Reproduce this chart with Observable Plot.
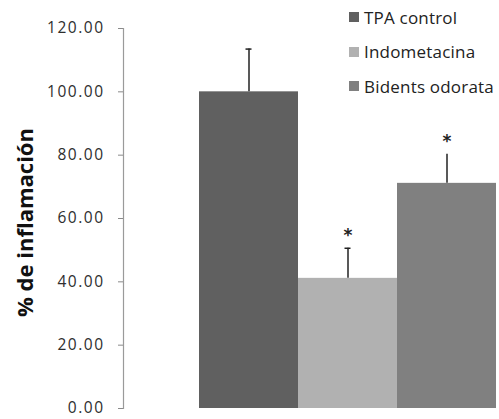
<!DOCTYPE html>
<html>
<head>
<meta charset="utf-8">
<script src="https://cdn.jsdelivr.net/npm/d3@7"></script>
<script src="https://cdn.jsdelivr.net/npm/@observablehq/plot@0.6"></script>
<style>
  html, body { margin: 0; padding: 0; background: #fff; }
  #wrap { position: relative; width: 499px; height: 419px; overflow: hidden; }
  #legend { position: absolute; left: 349px; top: 6px; font-family: "Open Sans", sans-serif; font-size: 17px; letter-spacing: 0.2px; color: #222; }
  #legend .item { display: flex; align-items: center; height: 34.5px; margin-top: 0; }
  #legend .sw { width: 10px; height: 10px; margin-right: 5px; }
  #legend .item:first-child { margin-top: -6px; }
</style>
</head>
<body>
<div id="wrap"><div id="chart"></div><div id="legend"></div></div>
<script>
const categories = ["TPA control", "Indometacina", "Bidents odorata"];
const values = [100.0, 41.1, 71.1];
const errors = [13.5, 9.5, 9.2];
const showCap = [true, true, false];
const significant = [false, true, true];
const colors = ["#606060", "#b1b1b1", "#808080"];
const yTicks = [0, 20, 40, 60, 80, 100, 120];
const yLabel = "% de inflamación";

const data = categories.map((c, i) => ({
  cat: c, value: values[i], top: values[i] + errors[i], cap: showCap[i], star: significant[i]
}));

const chart = Plot.plot({
  width: 499,
  height: 419,
  marginLeft: 123,
  marginRight: 3,
  marginTop: 28,
  marginBottom: 11,
  style: { fontFamily: "Open Sans, sans-serif", background: "#fff" },
  x: { domain: categories, range: [198, 496.5], padding: 0, axis: null },
  y: { domain: [0, 120], axis: null },
  color: { domain: categories, range: colors },
  marks: [
    Plot.barY(data, { x: "cat", y: "value", fill: "cat" }),
    Plot.ruleX(data, { x: "cat", y1: "value", y2: "top", stroke: "#222", strokeWidth: 1.5 }),
    Plot.tickY(data.filter(d => d.cap), { x: "cat", y: "top", stroke: "#222", strokeWidth: 1.5, insetLeft: 46.5, insetRight: 46.5 }),
    Plot.text(data.filter(d => d.star), { x: "cat", y: "top", text: () => "*", dy: -13, fontSize: 17, fontWeight: "bold", fill: "#222", fontFamily: "DejaVu Sans" }),
    Plot.axisY({ ticks: yTicks, tickFormat: d3.format(".2f"), tickSize: 5, tickPadding: 14, stroke: "#8a8a8a", fill: "#2e2e2e", fontSize: 15.5, label: null }),
    Plot.frame({ anchor: "left", stroke: "#9a9a9a", strokeWidth: 1.2 }),
    Plot.text([yLabel], { frameAnchor: "left", dx: -98, dy: 4, rotate: -90, text: d => d, fontSize: 22, fontWeight: "bold", fill: "#111", fontFamily: "Open Sans", textAnchor: "middle" })
  ]
});
chart.querySelectorAll('[aria-label="y-axis tick label"] text').forEach(t => t.setAttribute("letter-spacing", "1.5"));
document.getElementById("chart").appendChild(chart);

const legend = document.getElementById("legend");
categories.forEach((c, i) => {
  const item = document.createElement("div");
  item.className = "item";
  const sw = document.createElement("div");
  sw.className = "sw";
  sw.style.background = colors[i];
  const label = document.createElement("span");
  label.textContent = c;
  item.appendChild(sw);
  item.appendChild(label);
  legend.appendChild(item);
});
</script>
</body>
</html>
